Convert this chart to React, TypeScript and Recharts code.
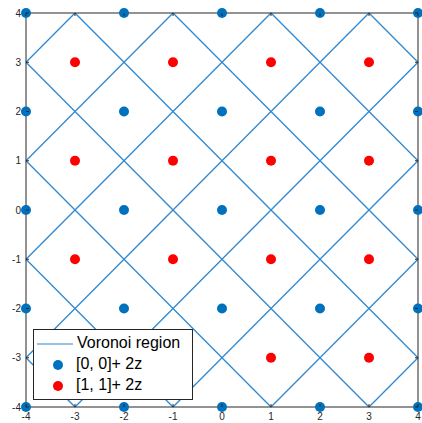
import React from "react";
import { ComposedChart, Line, Scatter, XAxis, YAxis } from "recharts";

// tick values on both axes
const xTicks = [-4, -3, -2, -1, 0, 1, 2, 3, 4];
const yTicks = [-4, -3, -2, -1, 0, 1, 2, 3, 4];

// lattice [0,0] + 2z
const bluePoints = [
  [-4, -4], [-2, -4], [0, -4], [2, -4], [4, -4],
  [-4, -2], [-2, -2], [0, -2], [2, -2], [4, -2],
  [-4, 0], [-2, 0], [0, 0], [2, 0], [4, 0],
  [-4, 2], [-2, 2], [0, 2], [2, 2], [4, 2],
  [-4, 4], [-2, 4], [0, 4], [2, 4], [4, 4],
];

// coset [1,1] + 2z
const redPoints = [
  [-3, -3], [-1, -3], [1, -3], [3, -3],
  [-3, -1], [-1, -1], [1, -1], [3, -1],
  [-3, 1], [-1, 1], [1, 1], [3, 1],
  [-3, 3], [-1, 3], [1, 3], [3, 3],
];

// voronoi edges, [x1, y1, x2, y2]
const voronoiEdges = [
  [-4, -3, -3, -4], [-4, -1, -1, -4], [-4, 1, 1, -4], [-4, 3, 3, -4],
  [-3, 4, 4, -3], [-1, 4, 4, -1], [1, 4, 4, 1], [3, 4, 4, 3],
  [-4, 3, -3, 4], [-4, 1, -1, 4], [-4, -1, 1, 4], [-4, -3, 3, 4],
  [-3, -4, 4, 3], [-1, -4, 4, 1], [1, -4, 4, -1], [3, -4, 4, -3],
];

const BLUE = "#0072bd";
const RED = "#ff0000";
const LINE = "#2f88d0";
const AXIS = "#262626";
const FONT = "'Liberation Sans', Arial, Helvetica, sans-serif";

const toXY = (p: number[]) => ({ x: p[0], y: p[1] });

const Empty = () => <g />;

const Dot = (color: string) => (props: any) => (
  <circle cx={props.cx} cy={props.cy} r={5} fill={color} />
);

// ticks point inward like matlab's box axes
const BottomTick = (props: any) => (
  <g>
    <line x1={props.x} x2={props.x} y1={props.y} y2={props.y - 3} stroke={AXIS} />
    <text x={props.x} y={props.y + 13} textAnchor="middle" fontSize={10} fill={AXIS} fontFamily={FONT}>
      {props.payload.value}
    </text>
  </g>
);

const LeftTick = (props: any) => (
  <g>
    <line x1={props.x} x2={props.x + 3} y1={props.y} y2={props.y} stroke={AXIS} />
    <text x={props.x - 5} y={props.y + 3.5} textAnchor="end" fontSize={10} fill={AXIS} fontFamily={FONT}>
      {props.payload.value}
    </text>
  </g>
);

const TopTick = (props: any) => (
  <line x1={props.x} x2={props.x} y1={props.y} y2={props.y + 3} stroke={AXIS} />
);

const RightTick = (props: any) => (
  <line x1={props.x} x2={props.x - 3} y1={props.y} y2={props.y} stroke={AXIS} />
);

function LegendBox() {
  const row: React.CSSProperties = { height: 21, position: "relative" };
  return (
    <div
      style={{
        position: "absolute",
        left: 33,
        top: 329,
        width: 158,
        height: 66,
        border: `1px solid ${AXIS}`,
        background: "#fff",
        fontFamily: FONT,
        fontSize: 16,
        color: "#000",
        paddingTop: 3,
        boxSizing: "content-box",
      }}
    >
      <div style={row}>
        <svg width={36} height={4} style={{ position: "absolute", left: 3, top: 9 }}>
          <line x1={0} x2={36} y1={2} y2={2} stroke={LINE} strokeWidth={1.2} />
        </svg>
        <span style={{ position: "absolute", left: 43, top: 1 }}>Voronoi region</span>
      </div>
      <div style={row}>
        <svg width={12} height={12} style={{ position: "absolute", left: 18, top: 5 }}>
          <circle cx={6} cy={6} r={5} fill={BLUE} />
        </svg>
        <span style={{ position: "absolute", left: 42, top: 1 }}>[0, 0]+ 2z</span>
      </div>
      <div style={row}>
        <svg width={12} height={12} style={{ position: "absolute", left: 18, top: 5 }}>
          <circle cx={6} cy={6} r={5} fill={RED} />
        </svg>
        <span style={{ position: "absolute", left: 42, top: 1 }}>[1, 1]+ 2z</span>
      </div>
    </div>
  );
}

export default function App() {
  return (
    <div style={{ position: "absolute", left: 0, top: 0, width: 422, height: 423, background: "#fff" }}>
      <ComposedChart width={422} height={423} margin={{ top: 12, right: 3, left: 0, bottom: 0 }}>
        <XAxis
          xAxisId="b"
          type="number"
          dataKey="x"
          domain={[-4, 4]}
          ticks={xTicks}
          height={16}
          tickSize={0}
          tickMargin={0}
          tickLine={false}
          axisLine={{ stroke: AXIS }}
          tick={BottomTick}
          interval={0}
        />
        <XAxis
          xAxisId="t"
          orientation="top"
          type="number"
          dataKey="x"
          domain={[-4, 4]}
          ticks={xTicks}
          height={1}
          tickSize={0}
          tickMargin={0}
          tickLine={false}
          axisLine={{ stroke: AXIS }}
          tick={TopTick}
          interval={0}
        />
        <YAxis
          yAxisId="l"
          type="number"
          dataKey="y"
          domain={[-4, 4]}
          ticks={yTicks}
          width={26}
          tickSize={0}
          tickMargin={0}
          tickLine={false}
          axisLine={{ stroke: AXIS }}
          tick={LeftTick}
          interval={0}
        />
        <YAxis
          yAxisId="r"
          orientation="right"
          type="number"
          dataKey="y"
          domain={[-4, 4]}
          ticks={yTicks}
          width={1}
          tickSize={0}
          tickMargin={0}
          tickLine={false}
          axisLine={{ stroke: AXIS }}
          tick={RightTick}
          interval={0}
        />
        {/* invisible series so the top and right axes get drawn */}
        <Scatter
          xAxisId="t"
          yAxisId="r"
          data={bluePoints.map(toXY)}
          shape={Empty}
          legendType="none"
          isAnimationActive={false}
        />
        {voronoiEdges.map((e, i) => (
          <Line
            key={`edge-${i}`}
            xAxisId="b"
            yAxisId="l"
            type="linear"
            data={[toXY([e[0], e[1]]), toXY([e[2], e[3]])]}
            dataKey="y"
            stroke={LINE}
            strokeWidth={1.3}
            dot={false}
            activeDot={false}
            legendType="none"
            isAnimationActive={false}
          />
        ))}
        <Scatter
          xAxisId="b"
          yAxisId="l"
          data={bluePoints.map(toXY)}
          fill={BLUE}
          shape={Dot(BLUE)}
          isAnimationActive={false}
        />
        <Scatter
          xAxisId="b"
          yAxisId="l"
          data={redPoints.map(toXY)}
          fill={RED}
          shape={Dot(RED)}
          isAnimationActive={false}
        />
      </ComposedChart>
      <LegendBox />
    </div>
  );
}
